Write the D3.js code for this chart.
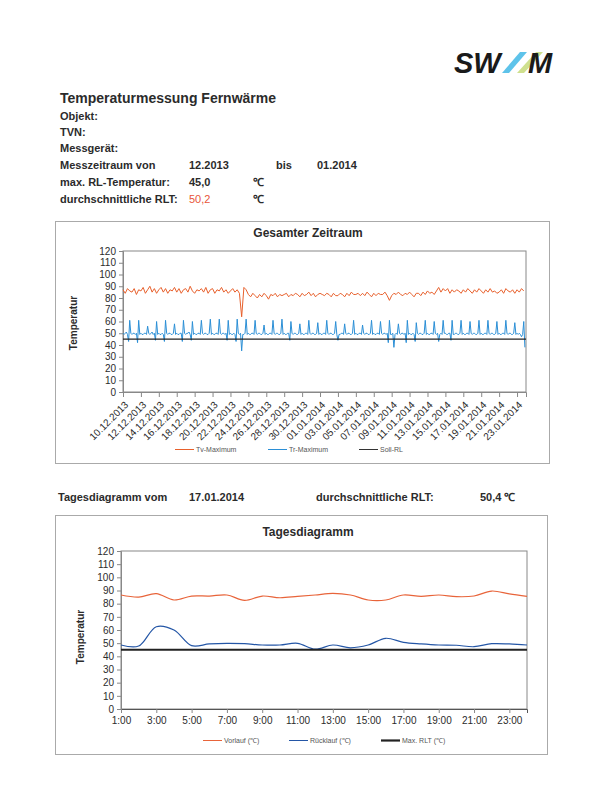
<!DOCTYPE html>
<html><head><meta charset="utf-8">
<script src="https://cdn.jsdelivr.net/npm/d3@7"></script>
<style>
body{margin:0;background:#fff}
svg{display:block}
text{font-family:"Liberation Sans",Arial,Helvetica,sans-serif}
</style>
</head><body>
<svg id="c" width="611" height="807"></svg>
<script>
// ---------- DATA ----------
const dateTicks = ["10.12.2013","12.12.2013","14.12.2013","16.12.2013","18.12.2013","20.12.2013","22.12.2013","24.12.2013","26.12.2013","28.12.2013","30.12.2013","01.01.2014","03.01.2014","05.01.2014","07.01.2014","09.01.2014","11.01.2014","13.01.2014","15.01.2014","17.01.2014","19.01.2014","21.01.2014","23.01.2014"];
const periodStart = "10.12.2013";
const periodEnd = "24.01.2014";
// Tv-Maximum, every 6 h (00,06,12,18)
const tvSampleHours = 6;
const tvMaximum = [
87,84,88,86, 85,88,83,87, 86,89,84,87, 90,85,88,84, 87,89,85,88,
84,87,86,89, 85,88,84,87, 88,85,90,86, 84,87,86,88, 85,89,84,87,
88,84,87,86, 89,85,87,84, 86,88,85,87, 84,64,89,87, 83,81,84,82,
80,83,81,84, 82,79,83,82, 84,81,83,82, 83,84,81,83, 82,84,83,81,
84,82,83,85, 82,84,81,83, 84,83,82,84, 83,81,84,82, 82,84,83,81,
84,82,85,83, 83,84,82,84, 82,85,83,81, 84,82,84,83, 83,85,82,78,
82,84,83,85, 83,82,84,83, 85,83,81,84, 84,82,85,83, 86,84,85,83,
86,89,85,88, 86,88,84,87, 85,87,86,84, 87,85,88,86, 84,87,85,88,
86,84,87,85, 88,85,86,84, 85,87,84,88, 86,85,87,84, 87,85,88,86
];
// Tr-Maximum, every 3 h (00,03,...,21)
const trSampleHours = 3;
const trMaximum = [
50,49,50,51,49,43,61,50, 49,50,50,49,50,42,61,49, 50,49,49,50,50,49,56,50,
49,50,51,49,50,44,60,49, 50,49,49,50,49,43,61,50, 49,50,50,49,49,50,58,49,
50,49,49,50,50,43,61,50, 49,50,50,51,49,44,60,49, 50,49,49,50,50,49,61,50,
49,50,50,49,49,50,62,49, 50,49,49,50,50,49,62,50, 49,50,50,49,50,44,61,49,
50,49,49,50,49,43,62,50, 49,50,35,49,49,50,62,49, 50,49,49,50,50,49,61,50,
49,50,50,49,49,50,57,49, 50,49,49,50,50,49,61,50, 49,50,50,49,49,50,62,49,
50,49,49,50,50,44,60,50, 49,50,50,49,49,50,58,49, 50,49,49,50,50,49,61,50,
49,50,50,49,49,50,59,49, 50,49,49,50,50,49,61,50, 49,50,50,49,49,50,60,49,
44,49,49,50,50,49,58,50, 49,50,50,49,49,50,61,49, 50,49,49,50,50,49,57,50,
49,50,50,49,49,50,61,49, 50,49,49,50,50,49,60,50, 49,50,50,49,50,42,61,49,
49,50,38,49,50,49,58,50, 49,50,50,49,50,42,61,49, 50,49,49,50,49,43,59,50,
49,50,50,49,49,50,61,49, 50,49,49,50,50,49,60,50, 49,50,43,49,50,49,61,50,
50,49,49,50,50,44,61,49, 49,50,50,49,49,50,61,49, 50,49,49,50,50,49,60,50,
49,50,50,49,49,50,61,49, 50,49,49,50,50,49,61,50, 49,50,50,49,49,50,60,49,
50,49,49,50,50,49,61,50, 49,50,50,49,49,50,59,49, 50,49,50,49,47,49,60,38
];
const sollRL = [45,45];
const hours = ["1:00","2:00","3:00","4:00","5:00","6:00","7:00","8:00","9:00","10:00","11:00","12:00","13:00","14:00","15:00","16:00","17:00","18:00","19:00","20:00","21:00","22:00","23:00","24:00"];
const hourTicks = ["1:00","3:00","5:00","7:00","9:00","11:00","13:00","15:00","17:00","19:00","21:00","23:00"];
const vorlauf = [86.6,85,87.6,82.8,85.8,85.8,86.6,82.5,85.8,84.5,85.5,86.6,87.8,86.6,82.8,82.8,86.6,85.5,86.6,85.3,85.8,89.6,87.4,85.5];
const ruecklauf = [48.6,47.8,62.5,60,48.1,49.4,49.9,49.6,48.6,48.6,49.9,45.5,48.6,46.5,48.6,53.7,50.6,49.4,48.6,48.4,47.3,49.6,49.4,48.6];
const maxRLT = [45,45,45,45,45,45,45,45,45,45,45,45,45,45,45,45,45,45,45,45,45,45,45,45];
const yTicks = [0,10,20,30,40,50,60,70,80,90,100,110,120];

// ---------- DRAW ----------
const svg = d3.select("#c");
svg.append("rect").attr("width",611).attr("height",807).attr("fill","#fff");
const TXT = "#2b2b2b";

// Logo
const logo = svg.append("g");
logo.append("text").attr("x",454).attr("y",73).attr("font-size",29).attr("font-weight",900)
  .attr("font-style","italic").attr("fill","#1a1a1a").text("SW");
logo.append("path").attr("d","M502,73 L509,73 L527,52 L520,52 Z").attr("fill","#5ec3ea");
logo.append("path").attr("d","M517,73 L524,73 L543,52 L536,52 Z").attr("fill","#cfe08e");
logo.append("text").attr("x",528).attr("y",73).attr("font-size",29).attr("font-weight",900)
  .attr("font-style","italic").attr("fill","#1a1a1a").text("M");

// Header
svg.append("text").attr("x",60).attr("y",103).attr("font-size",14).attr("font-weight","bold").attr("fill",TXT).text("Temperaturmessung Fernwärme");
const hdr = [
  [120,"Objekt:"],[136,"TVN:"],[152,"Messgerät:"],[169,"Messzeitraum von"],[186,"max. RL-Temperatur:"],[203,"durchschnittliche RLT:"]
];
hdr.forEach(([y,t])=>svg.append("text").attr("x",60).attr("y",y).attr("font-size",11).attr("font-weight","bold").attr("fill",TXT).text(t));
const hdrVals = [
  [189,169,"12.2013",TXT],[276,169,"bis",TXT],[317,169,"01.2014",TXT],
  [189,186,"45,0",TXT],[253,186,"℃",TXT],
  [189,203,"50,2","#e8553a"],[253,203,"℃",TXT]
];
hdrVals.forEach(([x,y,t,c])=>svg.append("text").attr("x",x).attr("y",y).attr("font-size",11).attr("font-weight",c===TXT?"bold":"normal").attr("fill",c).text(t));

// middle line
[[58,"Tagesdiagramm vom"],[189,"17.01.2014"],[316,"durchschnittliche RLT:"],[480,"50,4 ℃"]].forEach(([x,t])=>
  svg.append("text").attr("x",x).attr("y",501).attr("font-size",11).attr("font-weight","bold").attr("fill",TXT).text(t));

// boxes
svg.append("rect").attr("x",55.5).attr("y",221.5).attr("width",494).attr("height",242).attr("fill","none").attr("stroke","#aaa");
svg.append("rect").attr("x",55.5).attr("y",515.5).attr("width",492).attr("height",239).attr("fill","none").attr("stroke","#aaa");

function styleAxis(g){
  g.selectAll("path,line").attr("stroke","#888");
  g.selectAll("text").attr("fill",TXT).attr("font-size",10).attr("font-family","'Liberation Sans',Arial,sans-serif");
}

// ---------- Chart 1 ----------
const parse = d3.timeParse("%d.%m.%Y");
const t0 = parse(periodStart);
const x1 = d3.scaleTime().domain([t0, parse(periodEnd)]).range([123,526]);
const y1 = d3.scaleLinear().domain([0,120]).range([392,251]);
const tAt = (i,h) => new Date(t0.getTime() + i*h*3600e3);

svg.append("text").attr("x",308).attr("y",237).attr("text-anchor","middle").attr("font-size",12).attr("font-weight","bold").attr("fill",TXT).text("Gesamter Zeitraum");
svg.append("text").attr("transform","translate(77,323) rotate(-90)").attr("text-anchor","middle").attr("font-size",10).attr("font-weight","bold").attr("fill",TXT).text("Temperatur");

svg.append("rect").attr("x",123).attr("y",251).attr("width",403).attr("height",141).attr("fill","none").attr("stroke","#888");
const ya1 = svg.append("g").attr("transform","translate(123,0)").call(d3.axisLeft(y1).tickValues(yTicks).tickSize(4).tickPadding(3));
styleAxis(ya1);
const xa1 = svg.append("g").attr("transform","translate(0,392)").call(d3.axisBottom(x1).tickValues(dateTicks.map(parse)).tickFormat(d3.timeFormat("%d.%m.%Y")).tickSize(5));
styleAxis(xa1);
xa1.selectAll("text").attr("x",0).attr("y",0).attr("dy","0.35em").style("text-anchor","end").attr("transform","translate(3,11) rotate(-45)");

const lineTv = d3.line().x((d,i)=>x1(tAt(i,tvSampleHours))).y(d=>y1(d));
const lineTr = d3.line().x((d,i)=>x1(tAt(i,trSampleHours))).y(d=>y1(d));
svg.append("path").datum(tvMaximum).attr("d",lineTv).attr("fill","none").attr("stroke","#e8602c").attr("stroke-width",1);
svg.append("path").datum(trMaximum).attr("d",lineTr).attr("fill","none").attr("stroke","#2b8fd6").attr("stroke-width",1);
const sollLine = d3.line().x((d,i)=>x1(i===0?t0:parse(periodEnd))).y(d=>y1(d));
svg.append("path").datum(sollRL).attr("d",sollLine).attr("fill","none").attr("stroke","#222").attr("stroke-width",1.2);

// legend 1
[[175,"Tv-Maximum","#e8602c",1],[268,"Tr-Maximum","#2b8fd6",1],[359,"Soll-RL","#333",1]].forEach(([x,t,c,w])=>{
  svg.append("line").attr("x1",x).attr("x2",x+19).attr("y1",449.5).attr("y2",449.5).attr("stroke",c).attr("stroke-width",w);
  svg.append("text").attr("x",x+21).attr("y",452).attr("font-size",7).attr("fill","#555").text(t);
});

// ---------- Chart 2 ----------
const x2 = d3.scalePoint().domain(hours).range([121,527]);
const y2 = d3.scaleLinear().domain([0,120]).range([709,551]);

svg.append("text").attr("x",308).attr("y",536).attr("text-anchor","middle").attr("font-size",12).attr("font-weight","bold").attr("fill",TXT).text("Tagesdiagramm");
svg.append("text").attr("transform","translate(84,637) rotate(-90)").attr("text-anchor","middle").attr("font-size",10).attr("font-weight","bold").attr("fill",TXT).text("Temperatur");

svg.append("rect").attr("x",121).attr("y",551).attr("width",406).attr("height",158).attr("fill","none").attr("stroke","#888");
const ya2 = svg.append("g").attr("transform","translate(121,0)").call(d3.axisLeft(y2).tickValues(yTicks).tickSize(4).tickPadding(3));
styleAxis(ya2);
const xa2 = svg.append("g").attr("transform","translate(0,709)").call(d3.axisBottom(x2).tickValues(hourTicks).tickSize(4).tickPadding(4));
styleAxis(xa2);
xa2.select(".domain").attr("stroke","#555");

const line2 = d3.line().x((d,i)=>x2(hours[i])).y(d=>y2(d)).curve(d3.curveCatmullRom.alpha(0.5));
svg.append("path").datum(vorlauf).attr("d",line2).attr("fill","none").attr("stroke","#e8643a").attr("stroke-width",1.2);
svg.append("path").datum(ruecklauf).attr("d",line2).attr("fill","none").attr("stroke","#2456a6").attr("stroke-width",1.2);
svg.append("path").datum(maxRLT).attr("d",line2).attr("fill","none").attr("stroke","#222").attr("stroke-width",2.2);

// legend 2
[[203,"Vorlauf (℃)","#e8643a",1],[289,"Rücklauf (℃)","#2456a6",1],[381,"Max. RLT (℃)","#222",2.2]].forEach(([x,t,c,w])=>{
  svg.append("line").attr("x1",x).attr("x2",x+19).attr("y1",740.5).attr("y2",740.5).attr("stroke",c).attr("stroke-width",w);
  svg.append("text").attr("x",x+21).attr("y",743).attr("font-size",7).attr("fill","#555").text(t);
});
</script>
</body></html>
